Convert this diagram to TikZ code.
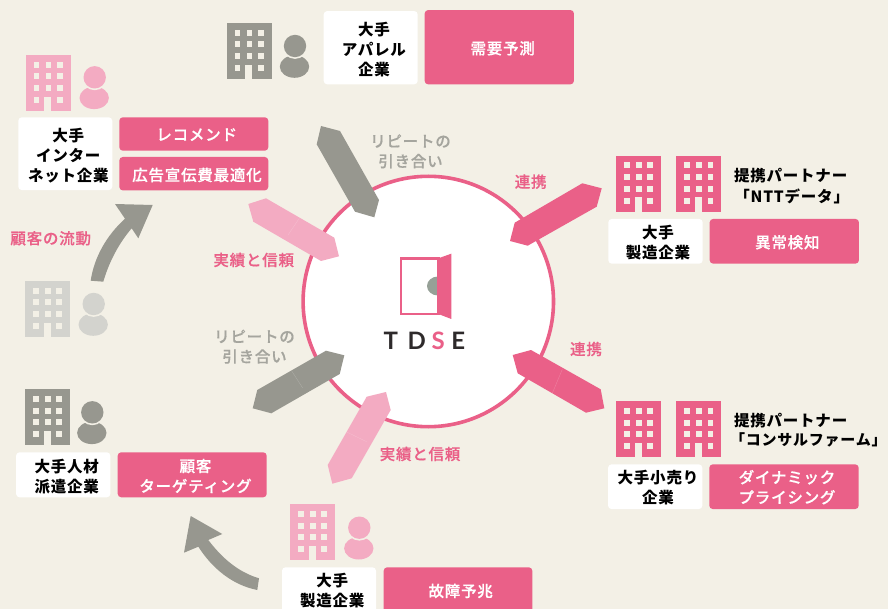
\documentclass[tikz,border=0pt]{standalone}
\usepackage{fontspec}
\newfontfamily\jp[LetterSpace=5]{Noto Sans CJK JP}
\newfontfamily\jpm[LetterSpace=5,FakeBold=0.5]{Noto Sans CJK JP Medium}
\newfontfamily\logofont{Lato}
\definecolor{bgc}{HTML}{F3F0E6}
\definecolor{pk}{HTML}{EA6088}
\definecolor{lpk}{HTML}{F3ABC2}
\definecolor{gy}{HTML}{97978F}
\definecolor{fgy}{HTML}{D3D3CE}
\definecolor{lblgy}{HTML}{A5A59E}
\definecolor{doorgy}{HTML}{96A097}
\definecolor{dk}{HTML}{2E2A2B}
\tikzset{
  jptext/.style={font={\jp\bfseries\fontsize{15.5}{20}\selectfont},align=center,inner sep=0pt},
  jpmed/.style={font={\jpm\fontsize{15.5}{20}\selectfont},align=center,inner sep=0pt},
  wbox/.style={fill=white,rounded corners=3.5pt,inner sep=0pt},
  pbox/.style={fill=pk,rounded corners=3.5pt,inner sep=0pt},
  wtxt/.style={jptext,text=black},
  ptxt/.style={jpmed,text=white},
  blk/.style={jptext,text=black},
  plbl/.style={jpmed,text=pk},
  glbl/.style={jpmed,text=lblgy},
  logo/.style={font={\logofont\bfseries\fontsize{24}{24}\selectfont},inner sep=0pt,text=dk},
  seam/.style={line width=0.4pt,draw=white,opacity=0.2}
}
\newcommand{\bldg}[3]{%
  \begin{scope}[shift={(#1,#2)}]
    \fill[#3] (0,0) rectangle (45,56);
    \foreach \cx in {8,19.8,31.3} \foreach \cy in {6.7,18.5,30}
      \fill[bgc] (\cx,\cy) rectangle ++(5.7,6);
    \fill[bgc] (8,42) rectangle ++(5.7,6);
    \fill[bgc] (31.3,42) rectangle ++(5.7,6);
    \fill[bgc] (18.6,41.7) rectangle (25.6,56);
  \end{scope}}
\newcommand{\persn}[3]{%
  \fill[#3] (#1-0.5,#2+20.6) ellipse [x radius=14.7,y radius=11.2];
  \fill[bgc] (#1,#2) circle [radius=12.9];
  \fill[#3] (#1,#2) circle [radius=11.2];}
\begin{document}
\begin{tikzpicture}[x=1pt,y=-1pt]
\useasboundingbox (0,0) rectangle (888,609);
\clip (0,0) rectangle (888,609);
\fill[bgc] (0,0) rectangle (888,609);

% central circle
\node[circle,draw=pk,line width=3.6pt,fill=white,minimum size=250.4pt,inner sep=0pt] (hub) at (428.3,301.5) {};

% door logo
\fill[doorgy] (438,286) ellipse [x radius=11,y radius=9.5];
\draw[pk,line width=2.3pt] (400.8,258.4) rectangle (438.5,313.9);
\fill[pk] (438.3,258.3) -- (451.3,253.7) -- (451.3,319) -- (438.3,314) -- cycle;
\node[logo] (lt) at (390.7,341) {T};
\node[logo] (ld) at (416.7,341) {D};
\node[logo,text=pk] (ls) at (438.3,341) {S};
\node[logo] (le) at (458.3,341) {E};

% tag-shaped connectors
\fill[gy] (321,126) -- (340,131) -- (379,200) -- (374.3,217.3) -- (355,211.7) -- (316.7,144.3) -- cycle;
\fill[pk] (582.3,183.3) -- (601.7,188.3) -- (596.7,206.7) -- (527.7,245.7) -- (510,241) -- (514.7,222.7) -- cycle;
\fill[pk] (512.7,355) -- (531,350) -- (600.7,389.3) -- (604.3,408.3) -- (586,412.7) -- (517.7,373.3) -- cycle;
\draw[seam] (562.3,369.3) -- (552.3,393.3);
\fill[lpk] (386,392) -- (390.7,410) -- (351.7,478.3) -- (332.3,483.7) -- (327.7,465) -- (366.7,396.7) -- cycle;
\draw[seam] (346,431.7) -- (366.7,441.7);
\fill[gy] (326,350.7) -- (344.3,355.3) -- (339.7,374) -- (271.3,413.3) -- (252.7,408.3) -- (257.3,390) -- cycle;
\draw[seam] (291.7,371) -- (302.7,388);
\fill[lpk] (334.3,237.7) -- (339,256.3) -- (321,261) -- (253.3,221.7) -- (248.3,204) -- (266,198.3) -- cycle;
\draw[seam] (299.3,218.3) -- (288,235);

% curved flow arrows
\fill[gy] (90.7,280.7) .. controls (94,258) and (106,236) .. (125,218.7) -- (115,204) -- (152.7,205) -- (138.3,238.3) -- (131.7,228.3) .. controls (119,243) and (109,262) .. (103.3,281.7) -- cycle;
\fill[gy] (259,578.3) .. controls (238,572) and (222,558) .. (208.3,540) -- (222.3,534) -- (190.7,516) -- (184,552.7) -- (198.3,546.7) .. controls (212,568) and (232,585) .. (257.3,590) -- cycle;

% buildings and people
\bldg{226.7}{23}{gy}\persn{295}{46}{gy}
\bldg{25.7}{55}{lpk}\persn{94.7}{77.3}{lpk}
\bldg{25}{281}{fgy}\persn{93.7}{304}{fgy}
\bldg{25}{389}{gy}\persn{92.3}{412.3}{gy}
\bldg{290}{504}{lpk}\persn{359.3}{527.7}{lpk}
\bldg{616}{155.7}{pk}\bldg{676.3}{155.7}{pk}
\bldg{616}{401}{pk}\bldg{676.3}{401}{pk}

% boxes
\node[wbox,minimum width=94pt,minimum height=73.3pt] (w1) at (370.7,47.7) {};
\node[pbox,minimum width=149.3pt,minimum height=74.3pt] (p1) at (499.3,47.2) {};
\node[wbox,minimum width=94pt,minimum height=72.7pt] (w2) at (65.3,153.7) {};
\node[pbox,minimum width=149pt,minimum height=33.4pt] (p2a) at (193.8,134) {};
\node[pbox,minimum width=149pt,minimum height=33.4pt] (p2b) at (193.8,173.7) {};
\node[wbox,minimum width=94.4pt,minimum height=44.7pt] (w3) at (655.5,241.3) {};
\node[pbox,minimum width=149.3pt,minimum height=44.7pt] (p3) at (784.3,241.3) {};
\node[wbox,minimum width=94.3pt,minimum height=44.7pt] (w4) at (655.2,486.7) {};
\node[pbox,minimum width=149.4pt,minimum height=44.7pt] (p4) at (784,486.7) {};
\node[wbox,minimum width=94.3pt,minimum height=45pt] (w5) at (63.2,474.8) {};
\node[pbox,minimum width=149pt,minimum height=45pt] (p5) at (192.2,474.8) {};
\node[wbox,minimum width=94pt,minimum height=47pt] (w6) at (329,590.8) {};
\node[pbox,minimum width=148.6pt,minimum height=47pt] (p6) at (458,590.8) {};

% box texts
\node[wtxt] (tw1) at (374,49.3) {大手\\アパレル\\企業};
\node[ptxt] (tp1) at (502.7,48.3) {需要予測};
\node[wtxt] (tw2) at (68.3,155.5) {大手\\インター\\ネット企業};
\node[ptxt] (tp2a) at (196.7,134.7) {レコメンド};
\node[ptxt] (tp2b) at (197,175) {広告宣伝費最適化};
\node[wtxt] (tw3) at (658,243) {大手\\製造企業};
\node[ptxt] (tp3) at (787.3,242.3) {異常検知};
\node[wtxt] (tw4) at (658,488) {大手小売り\\企業};
\node[ptxt] (tp4) at (787,487.2) {ダイナミック\\プライシング};
\node[wtxt] (tw5) at (66.7,476.3) {大手人材\\派遣企業};
\node[ptxt] (tp5) at (195.5,476) {顧客\\ターゲティング};
\node[wtxt] (tw6) at (332.3,590.8) {大手\\製造企業};
\node[ptxt] (tp6) at (460.7,591) {故障予兆};

% labels
\node[plbl] (l1) at (50.7,238.3) {顧客の流動};
\node[plbl] (l2) at (253.7,260) {実績と信頼};
\node[glbl] (l3) at (410.5,151.3) {リピートの\\引き合い};
\node[plbl] (l4) at (530.7,181.7) {連携};
\node[blk] (l5) at (790.7,176) {提携パートナー};
\node[blk] (l6) at (791.7,196.7) {「NTTデータ」};
\node[blk] (l7) at (790.7,421) {提携パートナー};
\node[blk,anchor=west,font={\jp\bfseries\fontsize{15}{20}\selectfont}] (l8) at (730,440) {「コンサルファーム」};
\node[plbl] (l9) at (586,349) {連携};
\node[glbl] (l10) at (254.5,346.7) {リピートの\\引き合い};
\node[plbl] (l11) at (420,454) {実績と信頼};
\end{tikzpicture}
\end{document}
